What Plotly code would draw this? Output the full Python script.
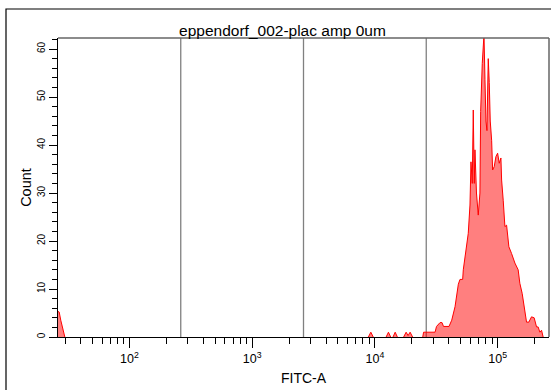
import math
import plotly.graph_objects as go

# ---------------- data ----------------
TITLE = "eppendorf_002-plac amp 0um"
X_LABEL = "FITC-A"
Y_LABEL = "Count"

X_MIN, X_MAX = 26.2144, 262144.0
Y_MAX = 62.3

GATES = [262.144, 2621.44, 26214.4]

X_MAJOR = [100, 1000, 10000, 100000]
X_MAJOR_TEXT = ["10<sup>2</sup>", "10<sup>3</sup>", "10<sup>4</sup>", "10<sup>5</sup>"]
X_MINOR = [30, 40, 50, 60, 70, 80, 90,
           200, 300, 400, 500, 600, 700, 800, 900,
           2000, 3000, 4000, 5000, 6000, 7000, 8000, 9000,
           20000, 30000, 40000, 50000, 60000, 70000, 80000, 90000,
           200000]
Y_TICKS = [0, 10, 20, 30, 40, 50, 60]

# low-end pile-up at the axis edge
LOW_FITC = [25.0, 26.8, 27.6, 28.7, 29.8]
LOW_COUNT = [5.6, 5.2, 3.5, 1.5, 0]

# isolated single events
MID_FITC = [8850, 9270, 9700, None,
            12350, 12900, 13450, None,
            14050, 14630, 15250, None,
            17150, 17970, 18650, 19370, 20300]
MID_COUNT = [0, 1, 0, None,
             0, 1, 0, None,
             0, 1, 0, None,
             0, 1, 0.3, 1, 0]

# main population
MAIN_FITC = [24550, 24940, 25650, 28170, 30930, 31780, 33950, 35240, 36240,
             40170, 42270, 44970, 47850, 49360, 51900, 52520, 54190, 55950,
             57640, 59540, 60660, 62130, 63340, 64540, 65370, 67260, 69530,
             71750, 72760, 74960, 76380, 77420, 78870, 80350, 81860, 82950,
             83880, 85460, 87060, 89360, 91060, 93830, 96870, 100000, 103040,
             106370, 107770, 111040, 114640, 118290, 121940, 123540, 129890,
             138300, 147000, 151700, 158480, 164490, 172000, 179600, 188900,
             198500, 207500, 213800, 220800, 227900, 234900]
MAIN_COUNT = [0, 1, 1, 1, 1, 2.2, 3, 3, 2.2,
              2.2, 3.5, 6.3, 11, 12, 12, 14, 16.7, 19.5,
              21.6, 27.5, 36.5, 32, 47.3, 32, 39, 30, 25.4,
              30, 47, 57, 63, 63, 53.6, 45, 43, 50,
              58, 53, 45, 41, 34.8, 35.5, 37.6, 38.3, 36.2,
              37.3, 32.7, 28.5, 23, 23.3, 20, 18.8, 17.4,
              15.4, 14, 11.2, 9.1, 6.3, 3.1, 3.1, 4.2,
              4, 2.1, 2.1, 1, 1.4, 0]

# ---------------- figure ----------------
FONT = "Liberation Sans, Arial, sans-serif"
fig = go.Figure()

for g in GATES:
    fig.add_trace(go.Scatter(x=[g, g], y=[0, Y_MAX], mode="lines",
                             line=dict(color="#808080", width=1.3),
                             hoverinfo="skip", showlegend=False))

for xs, ys in [(LOW_FITC, LOW_COUNT), (MID_FITC, MID_COUNT), (MAIN_FITC, MAIN_COUNT)]:
    fig.add_trace(go.Scatter(x=xs, y=ys, mode="lines", fill="tozeroy",
                             fillcolor="rgba(255,0,0,0.5)",
                             line=dict(color="#ff0000", width=1),
                             connectgaps=False, showlegend=False))

fig.update_layout(
    width=551, height=390,
    margin=dict(l=58, r=2, t=38, b=53),
    paper_bgcolor="white", plot_bgcolor="white",
    font=dict(family=FONT, color="black"),
    title=dict(text=TITLE, x=282.5 / 551, xref="container", xanchor="center",
               y=1 - 31 / 390, yref="container", yanchor="middle",
               font=dict(size=15.5, family=FONT, color="black")),
    xaxis=dict(type="log", range=[math.log10(X_MIN), math.log10(X_MAX)],
               automargin=False,
               showline=True, linecolor="black", linewidth=1,
               ticks="outside", ticklen=10, tickcolor="black", tickwidth=1,
               tickmode="array", tickvals=X_MAJOR, ticktext=X_MAJOR_TEXT,
               tickfont=dict(size=12.5),
               minor=dict(tickmode="array", tickvals=X_MINOR, ticks="outside",
                          ticklen=6, tickcolor="black", tickwidth=1, showgrid=False),
               showgrid=False, zeroline=False,
               title=dict(text=X_LABEL, font=dict(size=14), standoff=8)),
    yaxis=dict(range=[0, Y_MAX], automargin=False,
               showline=True, linecolor="black", linewidth=1,
               ticks="outside", ticklen=8, tickcolor="black", tickwidth=1,
               tickmode="array", tickvals=Y_TICKS, tickangle=-90,
               tickfont=dict(size=10),
               minor=dict(dtick=2, ticks="outside", ticklen=5,
                          tickcolor="black", tickwidth=1, showgrid=False),
               showgrid=False, zeroline=False,
               title=dict(text=Y_LABEL, font=dict(size=14.5), standoff=0)),
    shapes=[
        dict(type="line", xref="paper", yref="paper", x0=0, x1=1, y0=1, y1=1,
             line=dict(color="#666666", width=1.5)),
        dict(type="line", xref="paper", yref="paper", x0=1, x1=1, y0=0, y1=1,
             line=dict(color="#666666", width=1.5)),
        dict(type="rect", xref="paper", yref="paper",
             x0=(6 - 58) / 491, x1=1.3, y0=-0.5, y1=(337 - 9) / 299,
             line=dict(color="black", width=1.2), layer="below"),
    ],
)

fig.write_html("out.html", config={"displayModeBar": False},
               post_script="document.body.style.margin='0';document.body.style.padding='0';")
